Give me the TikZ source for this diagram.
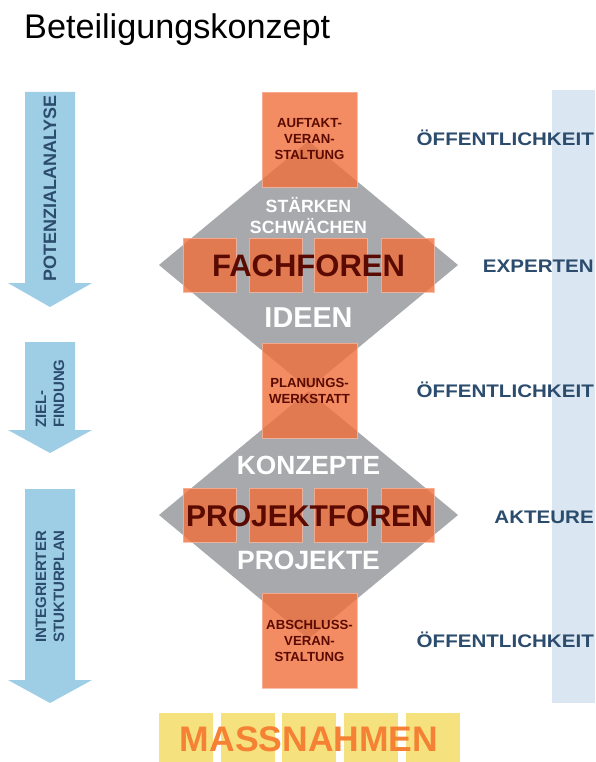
\documentclass[tikz,border=0pt]{standalone}
\usepackage{fontspec}
\setmainfont{Liberation Sans}

\definecolor{arrowblue}{RGB}{158,206,230}
\definecolor{stripblue}{RGB}{218,231,242}
\definecolor{labelblue}{RGB}{44,76,110}
\definecolor{diagray}{RGB}{167,169,172}
\definecolor{boxorange}{RGB}{242,108,56}
\definecolor{darkred}{RGB}{90,10,0}
\definecolor{massyellow}{RGB}{245,225,126}
\definecolor{massorange}{RGB}{245,130,52}

\newcommand{\fsz}[2]{\fontsize{#1}{#2}\selectfont}

\tikzset{
  phasearrow/.style={fill=arrowblue},
  phasetext/.style={inner sep=0pt, rotate=90, text=labelblue, align=left,
    font=\bfseries\fsz{15}{18}},
  eventbox/.style={fill=boxorange, fill opacity=0.78, text opacity=1,
    draw=boxorange!50!white, draw opacity=0.8, line width=0.6pt,
    minimum width=95pt, minimum height=95pt, inner sep=0pt,
    text=darkred, align=center, font=\bfseries\fsz{13.2}{16}},
  forumbox/.style={fill=boxorange, fill opacity=0.78,
    draw=boxorange!50!white, draw opacity=0.8, line width=0.6pt,
    minimum width=53pt, minimum height=54pt, inner sep=0pt},
  massbox/.style={fill=massyellow, minimum width=54pt, minimum height=49pt, inner sep=0pt},
  stagetext/.style={inner sep=0pt, text=white, align=center},
  forumtext/.style={inner sep=0pt, text=darkred},
  grouplabel/.style={inner sep=0pt, anchor=base east, text=labelblue,
    font=\bfseries\fsz{18.2}{21}},
}

\begin{document}
\begin{tikzpicture}[x=1pt, y=-1pt]
\useasboundingbox (0,0) rectangle (596,762);
\fill[white] (0,0) rectangle (596,762);

% title
\node[anchor=base west, inner sep=0pt, font=\fsz{34.2}{40}] (title) at (24,38.5) {Beteiligungskonzept};

% audience strip on the right
\fill[stripblue] (552,90) rectangle (595,703);

% phase arrows on the left
\foreach \t/\h/\p in {92/283/307, 342/430/453, 489/680/703}{
  \fill[phasearrow] (25,\t) -- (75,\t) -- (75,\h) -- (92,\h) -- (50,\p)
    -- (8,\h) -- (25,\h) -- cycle;
}
\node[phasetext, font=\bfseries\fsz{18}{21}] (potenzial) at (50,188.5) {POTENZIALANALYSE};
\node[phasetext, anchor=west] (ziel) at (50,428) {ZIEL-\\FINDUNG};
\node[phasetext, anchor=west] (plan) at (50,643) {INTEGRIERTER\\STUKTURPLAN};

% forum diamonds
\fill[diagray] (159,265) -- (308.5,141) -- (458,265) -- (308.5,389) -- cycle;
\fill[diagray] (159,515) -- (308.5,391) -- (458,515) -- (308.5,639) -- cycle;

% events
\node[eventbox] (auftakt) at (309.5,139.5) {AUFTAKT-\\VERAN-\\STALTUNG};
\node[eventbox] (werkstatt) at (309.5,390.5) {PLANUNGS-\\WERKSTATT};
\node[eventbox] (abschluss) at (309.5,640.5) {ABSCHLUSS-\\VERAN-\\STALTUNG};

% forum sessions
\foreach \x [count=\i] in {209.5,275.5,340.5,407.5}{
  \node[forumbox] (fach\i) at (\x,265) {};
  \node[forumbox] (projekt\i) at (\x,515) {};
}

% stage texts
\node[stagetext, font=\bfseries\fsz{17.7}{21}] (staerken) at (308.5,216) {STÄRKEN\\SCHWÄCHEN};
\node[forumtext, font=\bfseries\fsz{31}{36}] (fachforen) at (308.5,266) {FACHFOREN};
\node[stagetext, font=\bfseries\fsz{28.8}{34}] (ideen) at (308.5,318) {IDEEN};
\node[stagetext, font=\bfseries\fsz{26.3}{31}] (konzepte) at (308.5,465) {KONZEPTE};
\node[forumtext, font=\bfseries\fsz{30}{36}] (projektforen) at (309.5,516) {PROJEKTFOREN};
\node[stagetext, font=\bfseries\fsz{26.5}{31}] (projekte) at (308.5,560) {PROJEKTE};

% audiences
\node[grouplabel] (oeff1) at (594,145.5) {\scalebox{1.13}[1]{ÖFFENTLICHKEIT}};
\node[grouplabel] (experten) at (594,272.5) {\scalebox{1.13}[1]{EXPERTEN}};
\node[grouplabel] (oeff2) at (594,397) {\scalebox{1.13}[1]{ÖFFENTLICHKEIT}};
\node[grouplabel] (akteure) at (594,523.5) {\scalebox{1.13}[1]{AKTEURE}};
\node[grouplabel] (oeff3) at (594,647) {\scalebox{1.13}[1]{ÖFFENTLICHKEIT}};

% measures
\foreach \x [count=\i] in {186,247.5,309,370.5,433}{
  \node[massbox] (mass\i) at (\x,737.5) {};
}
\node[inner sep=0pt, text=massorange, font=\bfseries\fsz{35.5}{40}] (massnahmen) at (309,739) {MASSNAHMEN};
\end{tikzpicture}
\end{document}
